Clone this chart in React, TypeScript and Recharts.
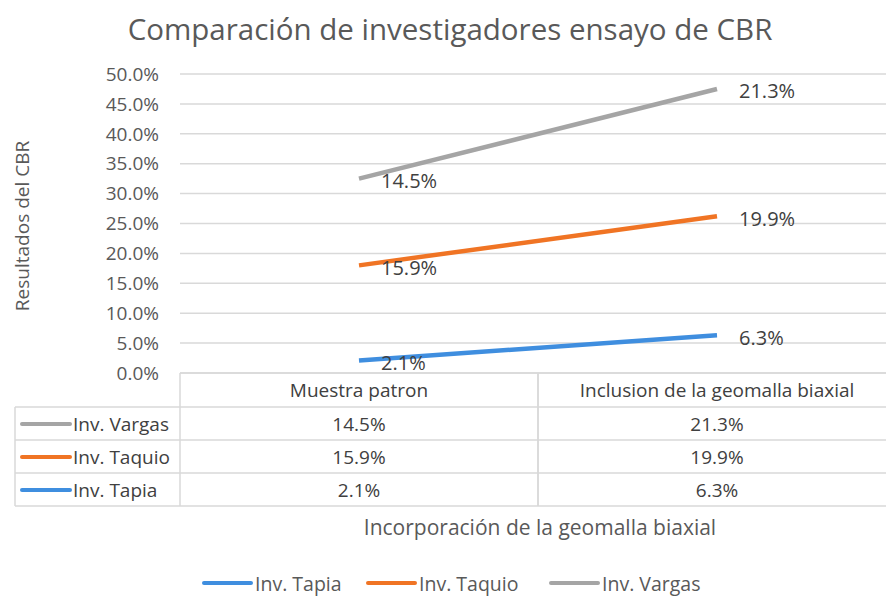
import { AreaChart, Area, XAxis, YAxis, CartesianGrid, LabelList, Customized } from 'recharts';

const categories = ['Muestra patron', 'Inclusion de la geomalla biaxial'];
const tapia = [0.021, 0.063];
const taquio = [0.159, 0.199];
const vargas = [0.145, 0.213];
const yTicks = [0, 0.05, 0.1, 0.15, 0.2, 0.25, 0.3, 0.35, 0.4, 0.45, 0.5];

const seriesNames = ['Inv. Tapia', 'Inv. Taquio', 'Inv. Vargas'];
const seriesValues = [tapia, taquio, vargas];
const colors = ['#3F8EDF', '#F07424', '#A5A5A5'];

const data = categories.map((cat, i) => ({
  cat,
  tapia: tapia[i],
  taquio: taquio[i],
  vargas: vargas[i],
}));

const W = 898;
const H = 596;
const M = { top: 74, right: 2, left: 110, bottom: 90 };
const Y_W = 70;
const X_H = 133;
const PLOT_L = M.left + Y_W;
const COL_W = (W - PLOT_L - M.right) / categories.length;
const FONT = '"Open Sans", sans-serif';
const ROW = [34, 67, 100, 133];
const GRID = '#d9d9d9';
const TBL_FS = 19;

const pct = (v: number) => `${(v * 100).toFixed(1)}%`;

// table rows from top to bottom: Vargas, Taquio, Tapia
const tableOrder = [2, 1, 0];

function TableTick(props: any) {
  const { x, y, payload } = props;
  const i = payload.index;
  const left = x - COL_W / 2;
  const right = x + COL_W / 2;
  return (
    <g>
      {ROW.map((r) => (
        <line key={r} x1={left} x2={right} y1={y + r} y2={y + r} stroke={GRID} strokeWidth={1.5} />
      ))}
      <line x1={left} x2={left} y1={y} y2={y + 133} stroke={GRID} strokeWidth={1.5} />
      <line x1={right} x2={right} y1={y} y2={y + 133} stroke={GRID} strokeWidth={1.5} />
      <text x={x} y={y + 17} textAnchor="middle" dominantBaseline="central" fontFamily={FONT} fontSize={TBL_FS} fill="#404040">
        {payload.value}
      </text>
      {tableOrder.map((s, r) => (
        <text key={s} x={x} y={y + 51 + r * 33} textAnchor="middle" dominantBaseline="central" fontFamily={FONT} fontSize={TBL_FS} fill="#404040">
          {pct(seriesValues[s][i])}
        </text>
      ))}
      {i === 0 && (
        <g>
          {ROW.map((r) => (
            <line key={r} x1={15} x2={left} y1={y + r} y2={y + r} stroke={GRID} strokeWidth={1.5} />
          ))}
          <line x1={15} x2={15} y1={y + 34} y2={y + 133} stroke={GRID} strokeWidth={1.5} />
          {tableOrder.map((s, r) => (
            <g key={s}>
              <line x1={22} x2={70} y1={y + 51 + r * 33} y2={y + 51 + r * 33} stroke={colors[s]} strokeWidth={4} strokeLinecap="round" />
              <text x={73} y={y + 51 + r * 33} dominantBaseline="central" fontFamily={FONT} fontSize={TBL_FS} fill="#404040">
                {seriesNames[s]}
              </text>
            </g>
          ))}
        </g>
      )}
    </g>
  );
}

function Extras() {
  const legendX = [204, 368, 551];
  return (
    <g fontFamily={FONT}>
      <text x={450} y={28} textAnchor="middle" dominantBaseline="central" fontSize={29.5} fill="#595959">
        Comparación de investigadores ensayo de CBR
      </text>
      <text transform="translate(22,226) rotate(-90)" textAnchor="middle" dominantBaseline="central" fontSize={19} fill="#595959">
        Resultados del CBR
      </text>
      <text x={540} y={527} textAnchor="middle" dominantBaseline="central" fontSize={21} fill="#595959">
        Incorporación de la geomalla biaxial
      </text>
      {seriesNames.map((n, i) => (
        <g key={n}>
          <line x1={legendX[i]} x2={legendX[i] + 47} y1={583} y2={583} stroke={colors[i]} strokeWidth={4} strokeLinecap="round" />
          <text x={legendX[i] + 51} y={583} dominantBaseline="central" fontSize={19.5} fill="#595959">
            {n}
          </text>
        </g>
      ))}
    </g>
  );
}

const makeLabel = (values: number[]) => (p: any) => (
  <text x={p.x + 22} y={p.y + 2} dominantBaseline="central" fontFamily={FONT} fontSize={20} fill="#404040">
    {pct(values[p.index])}
  </text>
);

export default function App() {
  return (
    <div style={{ position: 'absolute', left: 0, top: 0, width: 886, height: 596, overflow: 'hidden', background: '#fff' }}>
      <AreaChart width={W} height={H} data={data} margin={M}>
        <CartesianGrid vertical={false} stroke={GRID} strokeWidth={1.5} />
        <XAxis
          dataKey="cat"
          height={X_H}
          padding={{ left: COL_W / 2, right: COL_W / 2 }}
          axisLine={{ stroke: GRID, strokeWidth: 1.5 }}
          tickLine={false}
          tickSize={0}
          tickMargin={0}
          interval={0}
          tick={<TableTick />}
        />
        <YAxis
          width={Y_W}
          domain={[0, 0.5]}
          ticks={yTicks}
          tickFormatter={pct}
          axisLine={false}
          tickLine={false}
          tickSize={0}
          tickMargin={21}
          tick={{ fontFamily: FONT, fontSize: 19, fill: '#595959' }}
        />
        {[{ k: 'tapia', s: 0 }, { k: 'taquio', s: 1 }, { k: 'vargas', s: 2 }].map(({ k, s }) => (
          <Area
            key={k}
            type="linear"
            dataKey={k}
            stackId="cbr"
            stroke={colors[s]}
            strokeWidth={4.5}
            fill="none"
            dot={false}
            activeDot={false}
            isAnimationActive={false}
          >
            <LabelList dataKey={k} content={makeLabel(seriesValues[s])} />
          </Area>
        ))}
        <Customized component={Extras} />
      </AreaChart>
    </div>
  );
}
